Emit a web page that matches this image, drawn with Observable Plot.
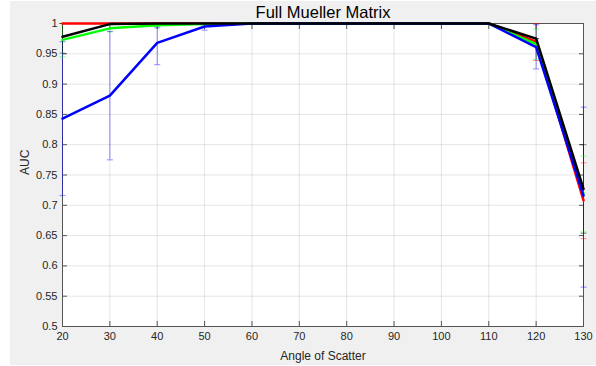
<!DOCTYPE html>
<html><head><meta charset="utf-8">
<script src="https://cdn.jsdelivr.net/npm/d3@7"></script>
<script src="https://cdn.jsdelivr.net/npm/@observablehq/plot@0.6"></script>
<style>
body{margin:0;background:#fff;overflow:hidden;}
#fig{position:absolute;left:10px;top:1px;width:586px;height:364px;background:#f0f0f0;}
#chart{position:absolute;left:0;top:0;}
</style></head><body><div id="fig"></div><div id="chart"></div>
<script>
const titleText = "Full Mueller Matrix";
const xLabel = "Angle of Scatter";
const yLabel = "AUC";
const angles = [20,30,40,50,60,70,80,90,100,110,120,130];
const xTicks = [20,30,40,50,60,70,80,90,100,110,120,130];
const yTicks = [0.5,0.55,0.6,0.65,0.7,0.75,0.8,0.85,0.9,0.95,1];
const seriesNames = ["S1","S2","S3","S4"];
const seriesColors = ["#ff0000","#00ff00","#0000ff","#000000"];

const redAUC   = [1,1,1,1,1,1,1,1,1,1,0.970,0.708];
const redLo    = [1,1,1,1,1,1,1,1,1,1,0.939,0.645];
const redHi    = [1,1,1,1,1,1,1,1,1,1,1,0.770];

const greenAUC = [0.973,0.992,0.997,0.999,1,1,1,1,1,1,0.966,0.719];
const greenLo  = [0.945,0.986,0.995,0.998,1,1,1,1,1,1,0.941,0.656];
const greenHi  = [1,0.998,0.999,1,1,1,1,1,1,1,0.991,0.781];

const blueAUC  = [0.843,0.881,0.968,0.995,1,1,1,1,1,1,0.961,0.716];
const blueLo   = [0.716,0.775,0.932,0.989,1,1,1,1,1,1,0.925,0.565];
const blueHi   = [0.970,0.987,0.993,1,1,1,1,1,1,1,0.998,0.862];

const blackAUC = [0.978,0.999,1,1,1,1,1,1,1,1,0.975,0.727];
const blackLo  = [0.951,0.998,1,1,1,1,1,1,1,1,0.975,0.654];
const blackHi  = [1,1,1,1,1,1,1,1,1,1,0.975,0.800];

const seriesValues = [
  [redAUC, redLo, redHi],
  [greenAUC, greenLo, greenHi],
  [blueAUC, blueLo, blueHi],
  [blackAUC, blackLo, blackHi]
];
const data = [];
seriesNames.forEach((s, i) => {
  const [m, lo, hi] = seriesValues[i];
  angles.forEach((a, j) => data.push({series: s, angle: a, auc: m[j], lo: lo[j], hi: hi[j]}));
});

const capSymbol = {draw(ctx) { ctx.moveTo(-3, 0); ctx.lineTo(3, 0); }};
const font = "'Liberation Sans', Arial, sans-serif";
const axisColor = "#555";
const fmt = d => String(+d.toFixed(2));

const chart = Plot.plot({
  width: 596, height: 366,
  marginLeft: 62, marginRight: 13, marginTop: 23, marginBottom: 40,
  style: {background: "transparent", fontFamily: font, fontSize: "11px", color: "#262626"},
  x: {domain: [20, 130], ticks: xTicks, label: null},
  y: {domain: [0.5, 1], ticks: yTicks, label: null},
  color: {type: "ordinal", domain: seriesNames, range: seriesColors},
  marks: [
    Plot.frame({fill: "white", stroke: null}),
    Plot.gridX(xTicks, {stroke: "#262626", strokeOpacity: 0.12}),
    Plot.gridY(yTicks, {stroke: "#262626", strokeOpacity: 0.12}),
    Plot.frame({stroke: axisColor, strokeWidth: 1}),
    Plot.axisX(xTicks, {anchor: "bottom", tickSize: -5, stroke: axisColor, tickFormat: () => ""}),
    Plot.axisX(xTicks, {anchor: "top", tickSize: -5, stroke: axisColor, tickFormat: () => ""}),
    Plot.axisY(yTicks, {anchor: "left", tickSize: -5, stroke: axisColor, tickFormat: () => ""}),
    Plot.axisY(yTicks, {anchor: "right", tickSize: -5, stroke: axisColor, tickFormat: () => ""}),
    Plot.axisX(xTicks, {anchor: "bottom", tickSize: 0, tickPadding: 6, fill: "#262626", fontSize: 11}),
    Plot.axisY(yTicks, {anchor: "left", tickSize: 0, tickPadding: 5, fill: "#262626", fontSize: 11, tickFormat: fmt}),
    Plot.ruleX(data, {x: "angle", y1: "lo", y2: "hi", stroke: "series", strokeOpacity: 0.45, strokeWidth: 1}),
    Plot.dot(data, {x: "angle", y: "lo", symbol: capSymbol, fill: "none", stroke: "series", strokeOpacity: 0.45, strokeWidth: 1}),
    Plot.dot(data, {x: "angle", y: "hi", symbol: capSymbol, fill: "none", stroke: "series", strokeOpacity: 0.45, strokeWidth: 1}),
    Plot.line(data, {x: "angle", y: "auc", z: "series", stroke: "series", strokeWidth: 2.5}),
    Plot.text([titleText], {frameAnchor: "top", lineAnchor: "bottom", dy: -6, fontSize: 16.5, fill: "black", text: d => d}),
    Plot.text([xLabel], {frameAnchor: "bottom", lineAnchor: "bottom", dy: 33, fontSize: 12, fill: "#262626", text: d => d}),
    Plot.text([yLabel], {frameAnchor: "left", lineAnchor: "middle", rotate: -90, dx: -37, fontSize: 12, fill: "#262626", text: d => d})
  ]
});
document.getElementById("chart").appendChild(chart);
</script>
</body></html>
